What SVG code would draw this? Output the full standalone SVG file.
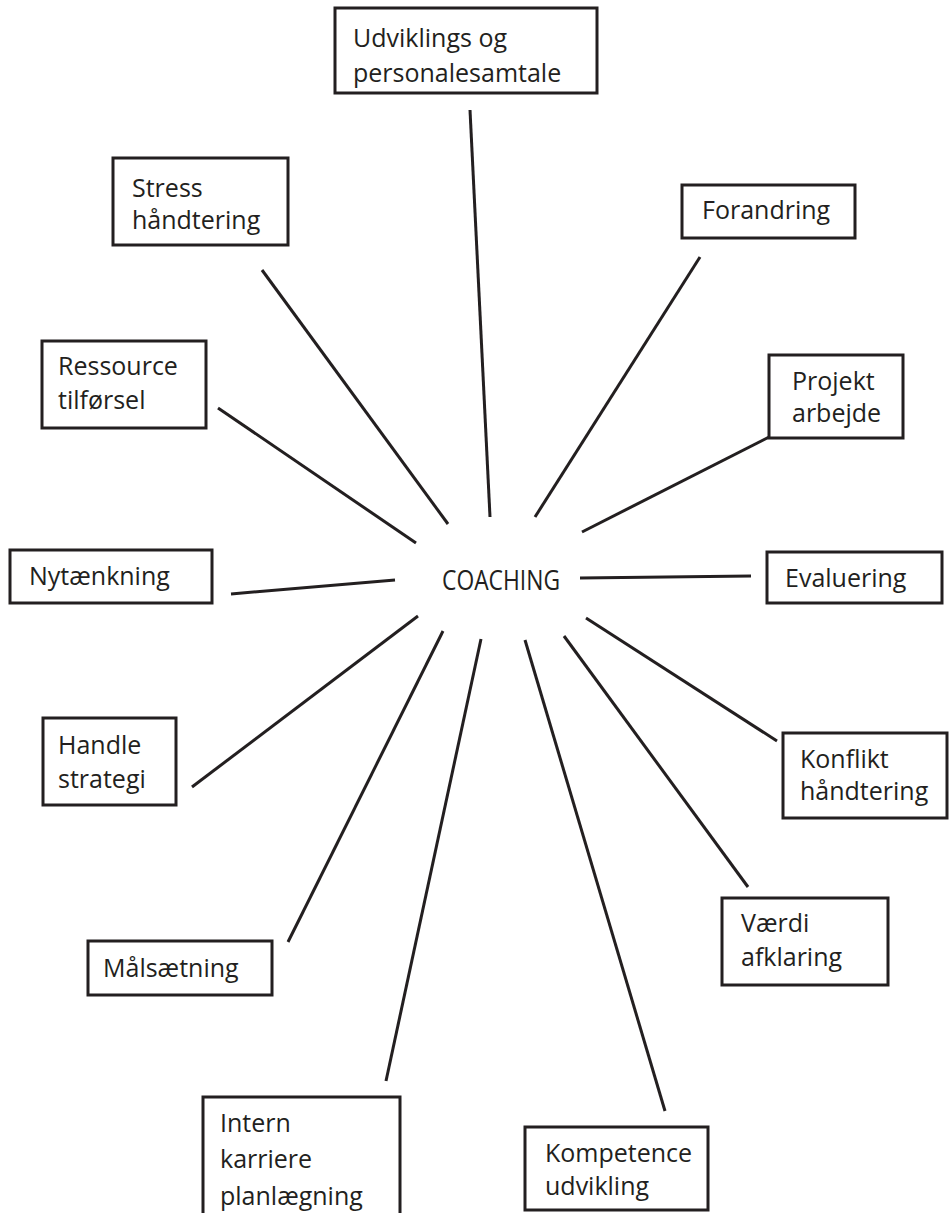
<svg xmlns="http://www.w3.org/2000/svg" width="950" height="1213" viewBox="0 0 950 1213">
  <style>
    .box { fill: #ffffff; stroke: #231f20; stroke-width: 3; }
    .lbl { font-family: "Open Sans", Lato, "Liberation Sans", sans-serif; font-size: 25px; fill: #231f20; }
    .hub { font-family: "Open Sans", Lato, "Liberation Sans", sans-serif; font-size: 27px; fill: #231f20; }
    .spoke { stroke: #231f20; stroke-width: 3; stroke-linecap: butt; fill: none; }
  </style>
  <rect width="950" height="1213" fill="#ffffff"/>

  <!-- spokes radiating from the central label -->
  <g id="connectors">
    <line class="spoke" x1="470" y1="110" x2="490" y2="517"/>
    <line class="spoke" x1="262" y1="270" x2="448" y2="524"/>
    <line class="spoke" x1="700" y1="257" x2="535" y2="517"/>
    <line class="spoke" x1="773" y1="435" x2="582" y2="532"/>
    <line class="spoke" x1="218" y1="408" x2="416" y2="543"/>
    <line class="spoke" x1="231" y1="594" x2="395" y2="580"/>
    <line class="spoke" x1="580" y1="578" x2="751" y2="576"/>
    <line class="spoke" x1="192" y1="787" x2="418" y2="616"/>
    <line class="spoke" x1="586" y1="618" x2="777" y2="741"/>
    <line class="spoke" x1="288" y1="942" x2="443" y2="631"/>
    <line class="spoke" x1="564" y1="636" x2="748" y2="887"/>
    <line class="spoke" x1="386" y1="1081" x2="481" y2="639"/>
    <line class="spoke" x1="665" y1="1111" x2="525" y2="640"/>
  </g>

  <g id="coaching">
    <text class="hub" x="442" y="590" textLength="118" lengthAdjust="spacingAndGlyphs">COACHING</text>
  </g>

  <g id="udvikling-personalesamtale">
    <rect class="box" x="335" y="8" width="262" height="85"/>
    <text class="lbl" x="353" y="47">Udviklings og</text>
    <text class="lbl" x="353" y="82">personalesamtale</text>
  </g>

  <g id="stress">
    <rect class="box" x="113" y="158" width="175" height="87"/>
    <text class="lbl" x="132" y="197">Stress</text>
    <text class="lbl" x="132" y="229">håndtering</text>
  </g>

  <g id="forandring">
    <rect class="box" x="682" y="185" width="173" height="53"/>
    <text class="lbl" x="702" y="219">Forandring</text>
  </g>

  <g id="projekt">
    <rect class="box" x="769" y="355" width="134" height="83"/>
    <text class="lbl" x="792" y="390">Projekt</text>
    <text class="lbl" x="792" y="422">arbejde</text>
  </g>

  <g id="ressource">
    <rect class="box" x="42" y="341" width="164" height="87"/>
    <text class="lbl" x="58" y="375">Ressource</text>
    <text class="lbl" x="58" y="409">tilførsel</text>
  </g>

  <g id="nytaenkning">
    <rect class="box" x="10" y="550" width="202" height="53"/>
    <text class="lbl" x="29" y="585">Nytænkning</text>
  </g>

  <g id="evaluering">
    <rect class="box" x="767" y="552" width="175" height="51"/>
    <text class="lbl" x="785" y="587">Evaluering</text>
  </g>

  <g id="handle">
    <rect class="box" x="43" y="718" width="133" height="87"/>
    <text class="lbl" x="58" y="754">Handle</text>
    <text class="lbl" x="58" y="788">strategi</text>
  </g>

  <g id="konflikt">
    <rect class="box" x="783" y="733" width="164" height="85"/>
    <text class="lbl" x="800" y="768">Konflikt</text>
    <text class="lbl" x="800" y="800">håndtering</text>
  </g>

  <g id="maalsaetning">
    <rect class="box" x="88" y="941" width="184" height="54"/>
    <text class="lbl" x="103" y="977">Målsætning</text>
  </g>

  <g id="vaerdi">
    <rect class="box" x="722" y="898" width="166" height="87"/>
    <text class="lbl" x="741" y="932">Værdi</text>
    <text class="lbl" x="741" y="966">afklaring</text>
  </g>

  <g id="intern-karriere">
    <rect class="box" x="203" y="1097" width="197" height="130"/>
    <text class="lbl" x="220" y="1132">Intern</text>
    <text class="lbl" x="220" y="1168">karriere</text>
    <text class="lbl" x="220" y="1205">planlægning</text>
  </g>

  <g id="kompetence">
    <rect class="box" x="525" y="1127" width="183" height="83"/>
    <text class="lbl" x="545" y="1162">Kompetence</text>
    <text class="lbl" x="545" y="1195">udvikling</text>
  </g>
</svg>
